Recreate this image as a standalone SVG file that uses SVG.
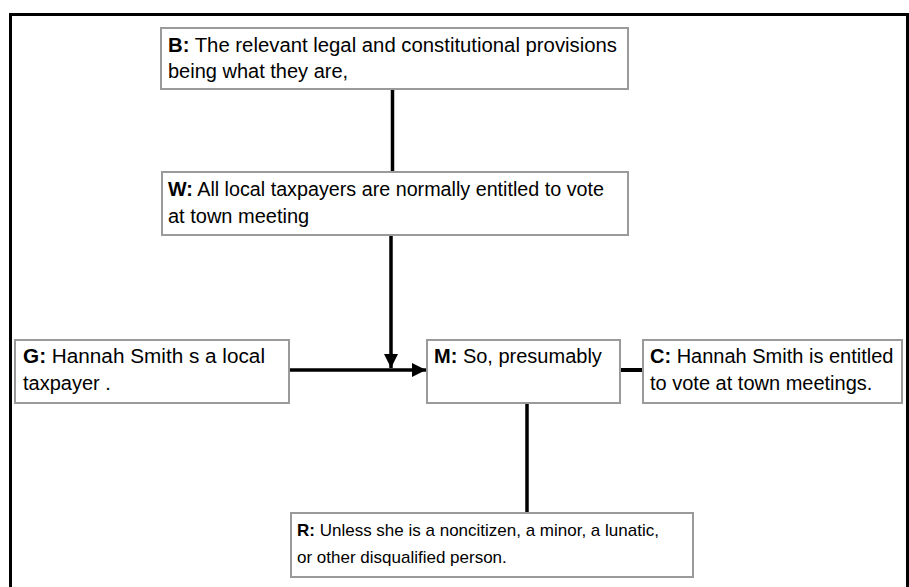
<svg xmlns="http://www.w3.org/2000/svg" width="909" height="587" viewBox="0 0 909 587">
<style>
.box{fill:#fff;stroke:#9a9a9a;stroke-width:2}
.t{font-family:"Liberation Sans",Arial,sans-serif;font-size:20px;fill:#000}
.s{font-size:17px}
.k{font-weight:bold}
.c{stroke:#000;stroke-width:3.5;fill:none}
</style>
<defs>
<marker id="ah" markerWidth="4" markerHeight="4" refX="4" refY="2" orient="auto" markerUnits="strokeWidth">
<path d="M0,0 L4,2 L0,4 Z" fill="#000"/>
</marker>
</defs>
<rect width="909" height="587" fill="#fff"/>
<path d="M10.5,600 V14.5 H907.5 V600" fill="none" stroke="#000" stroke-width="3"/>
<g id="connectors">
<line class="c" x1="392.5" y1="89" x2="392.5" y2="172"/>
<line class="c" x1="391" y1="235" x2="391" y2="368" marker-end="url(#ah)"/>
<line class="c" x1="289" y1="370" x2="426" y2="370" marker-end="url(#ah)"/>
<line class="c" x1="620" y1="370" x2="643" y2="370" style="stroke-width:4"/>
<line class="c" x1="527" y1="403" x2="527" y2="513"/>
</g>
<g id="B">
<rect class="box" x="161" y="28" width="467" height="61"/>
<text class="t" x="168" y="52" textLength="449" lengthAdjust="spacingAndGlyphs"><tspan class="k">B:</tspan> The relevant legal and constitutional provisions</text>
<text class="t" x="168" y="78">being what they are,</text>
</g>
<g id="W">
<rect class="box" x="162" y="172" width="466" height="63"/>
<text class="t" x="168" y="196" textLength="436" lengthAdjust="spacingAndGlyphs"><tspan class="k">W:</tspan> All local taxpayers are normally entitled to vote</text>
<text class="t" x="168" y="223">at town meeting</text>
</g>
<g id="G">
<rect class="box" x="15" y="340" width="274" height="63"/>
<text class="t" x="23" y="363" textLength="242" lengthAdjust="spacingAndGlyphs"><tspan class="k">G:</tspan> Hannah Smith s a local</text>
<text class="t" x="23" y="390">taxpayer .</text>
</g>
<g id="M">
<rect class="box" x="427" y="340" width="193" height="63"/>
<text class="t" x="434" y="363"><tspan class="k">M:</tspan> So, presumably</text>
</g>
<g id="C">
<rect class="box" x="643" y="340" width="259" height="63"/>
<text class="t" x="650" y="363"><tspan class="k">C:</tspan> Hannah Smith is entitled</text>
<text class="t" x="650" y="390">to vote at town meetings.</text>
</g>
<g id="R">
<rect class="box" x="291" y="513" width="402" height="64"/>
<text class="t s" x="297" y="536"><tspan class="k">R:</tspan> Unless she is a noncitizen, a minor, a lunatic,</text>
<text class="t s" x="297" y="563">or other disqualified person.</text>
</g>
</svg>
